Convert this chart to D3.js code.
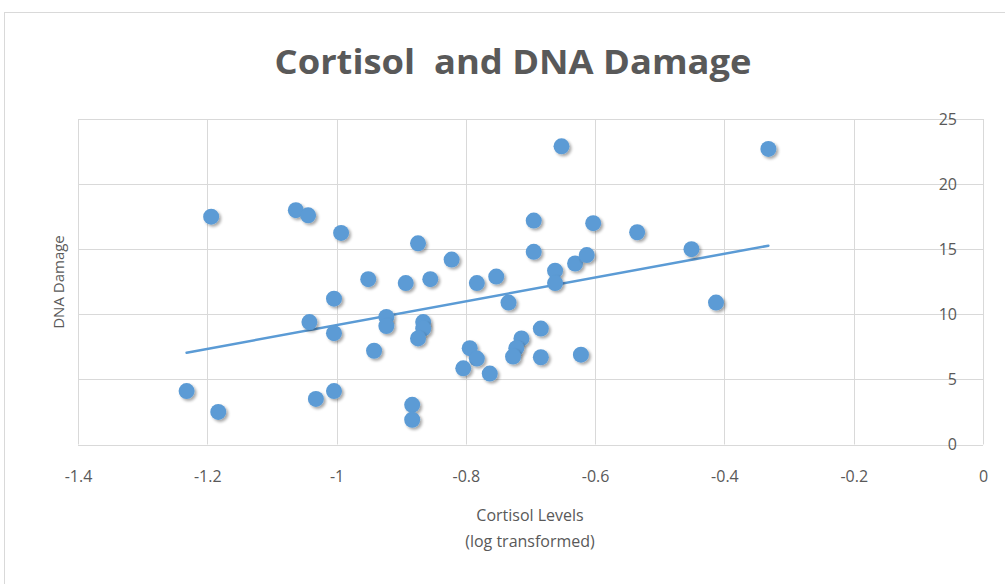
<!DOCTYPE html>
<html>
<head>
<meta charset="utf-8">
<script src="https://cdn.jsdelivr.net/npm/d3@7/dist/d3.min.js"></script>
<style>
  html, body { margin: 0; padding: 0; background: #fff; }
  svg { display: block; }
</style>
</head>
<body>
<svg id="chart" width="1005" height="584"></svg>
<script>
// ---- Data ----
const cortisol = [
  -1.232, -1.183, -1.194, -1.063, -1.044, -0.993, -0.951, -1.004, -1.042, -1.004,
  -0.942, -1.032, -1.004, -0.923, -0.923, -0.652, -0.695, -0.603, -0.535, -0.451,
  -0.874, -0.822, -0.893, -0.855, -0.783, -0.753, -0.695, -0.662, -0.662, -0.631,
  -0.613, -0.734, -0.332, -0.413, -0.866, -0.866, -0.874, -0.794, -0.783, -0.804,
  -0.763, -0.714, -0.722, -0.727, -0.684, -0.684, -0.622, -0.883, -0.883
];
const dnaDamage = [
  4.1, 2.5, 17.5, 18.0, 17.6, 16.25, 12.7, 11.2, 9.4, 8.55,
  7.2, 3.5, 4.1, 9.8, 9.1, 22.9, 17.2, 17.0, 16.3, 15.0,
  15.45, 14.2, 12.4, 12.7, 12.4, 12.9, 14.8, 13.35, 12.4, 13.9,
  14.55, 10.9, 22.7, 10.9, 9.4, 8.9, 8.15, 7.4, 6.6, 5.85,
  5.45, 8.15, 7.4, 6.75, 8.9, 6.7, 6.9, 3.05, 1.9
];
const trendX = [-1.232, -0.332];
const trendY = [7.05, 15.27];
const xTicks = [-1.4, -1.2, -1, -0.8, -0.6, -0.4, -0.2, 0];
const yTicks = [0, 5, 10, 15, 20, 25];
const xTickLabels = ["-1.4", "-1.2", "-1", "-0.8", "-0.6", "-0.4", "-0.2", "0"];
const yTickLabels = ["0", "5", "10", "15", "20", "25"];
const titleText = "Cortisol  and DNA Damage";
const xTitle1 = "Cortisol Levels";
const xTitle2 = "(log transformed)";
const yTitle = "DNA Damage";

// ---- Layout ----
const svg = d3.select("#chart");
const textColor = "#595959";
const gridColor = "#d9d9d9";
const blue = "#5B9BD5";
const font = "'Open Sans', 'Noto Sans', sans-serif";

const x = d3.scaleLinear().domain([-1.4, 0]).range([78, 983]);
const y = d3.scaleLinear().domain([0, 25]).range([444.5, 119]);

// chart border
svg.append("rect")
  .attr("x", 4.5).attr("y", 12.5)
  .attr("width", 1010).attr("height", 600)
  .attr("fill", "#fff").attr("stroke", "#d9d9d9").attr("stroke-width", 1);

// defs: marker shadow
const defs = svg.append("defs");
const f = defs.append("filter").attr("id", "shadow")
  .attr("x", "-50%").attr("y", "-50%").attr("width", "200%").attr("height", "200%");
f.append("feGaussianBlur").attr("in", "SourceAlpha").attr("stdDeviation", 1.5).attr("result", "b");
f.append("feOffset").attr("in", "b").attr("dx", 1.5).attr("dy", 1.5).attr("result", "o");
f.append("feComponentTransfer").attr("in", "o").attr("result", "oa")
  .append("feFuncA").attr("type", "linear").attr("slope", 0.35);
const m = f.append("feMerge");
m.append("feMergeNode").attr("in", "oa");
m.append("feMergeNode").attr("in", "SourceGraphic");

// gridlines
const grid = svg.append("g");
grid.selectAll("line.h").data(yTicks).enter().append("line")
  .attr("x1", x(-1.4)).attr("x2", x(0))
  .attr("y1", d => Math.round(y(d)) + 0.5).attr("y2", d => Math.round(y(d)) + 0.5)
  .attr("stroke", gridColor).attr("stroke-width", 1);
grid.selectAll("line.v").data(xTicks).enter().append("line")
  .attr("y1", y(25)).attr("y2", y(0))
  .attr("x1", d => Math.round(x(d)) + 0.5).attr("x2", d => Math.round(x(d)) + 0.5)
  .attr("stroke", gridColor).attr("stroke-width", 1);

// x axis tick labels
const xAxis = d3.axisBottom(x).tickValues(xTicks)
  .tickFormat((d, i) => xTickLabels[i]).tickSize(0).tickPadding(0);
const gx = svg.append("g").attr("transform", "translate(0,471)").call(xAxis);
gx.select(".domain").remove();
gx.selectAll("text").attr("fill", textColor).attr("font-size", "16px")
  .attr("font-family", font).attr("dy", "0.71em").attr("y", 0);

// y axis tick labels (right side, inside plot)
const yAxis = d3.axisLeft(y).tickValues(yTicks)
  .tickFormat((d, i) => yTickLabels[i]).tickSize(0).tickPadding(0);
const gy = svg.append("g").attr("transform", "translate(957,0)").call(yAxis);
gy.select(".domain").remove();
gy.selectAll("text").attr("fill", textColor).attr("font-size", "16px")
  .attr("font-family", font);

// trendline
svg.append("line")
  .attr("x1", x(trendX[0])).attr("y1", y(trendY[0]))
  .attr("x2", x(trendX[1])).attr("y2", y(trendY[1]))
  .attr("stroke", blue).attr("stroke-width", 2.5).attr("stroke-linecap", "round");

// points
const pts = cortisol.map((c, i) => ({ c, d: dnaDamage[i] }));
svg.append("g").selectAll("circle").data(pts).enter().append("circle")
  .attr("cx", p => x(p.c)).attr("cy", p => y(p.d)).attr("r", 8)
  .attr("fill", blue).attr("filter", "url(#shadow)");

// title
svg.append("text")
  .attr("x", 513).attr("y", 74).attr("text-anchor", "middle")
  .attr("font-family", font).attr("font-weight", 700).attr("font-size", "34px")
  .attr("fill", textColor)
  .attr("textLength", 477).attr("lengthAdjust", "spacingAndGlyphs")
  .style("white-space", "pre")
  .text(titleText);

// x axis title
svg.append("text")
  .attr("x", 530).attr("y", 521).attr("text-anchor", "middle")
  .attr("font-family", font).attr("font-size", "16px").attr("fill", textColor)
  .text(xTitle1);
svg.append("text")
  .attr("x", 530).attr("y", 547).attr("text-anchor", "middle")
  .attr("font-family", font).attr("font-size", "16px").attr("fill", textColor)
  .text(xTitle2);

// y axis title
svg.append("text")
  .attr("transform", "translate(64,282) rotate(-90)")
  .attr("text-anchor", "middle")
  .attr("font-family", font).attr("font-size", "15px").attr("fill", textColor)
  .text(yTitle);
</script>
</body>
</html>
